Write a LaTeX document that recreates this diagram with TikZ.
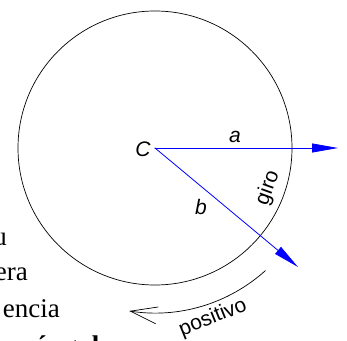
\documentclass[tikz,border=0pt]{standalone}
\usepackage{fontspec}
\setmainfont{Liberation Serif}
\setsansfont{Liberation Sans}
\usetikzlibrary{arrows.meta}
\definecolor{ink}{HTML}{000000}
\definecolor{vec}{HTML}{0000FF}

\begin{document}
\begin{tikzpicture}[
  x=1pt, y=1pt,
  lbl/.style={font=\sffamily\itshape\fontsize{21}{24}\selectfont, inner sep=0pt},
  tag/.style={font=\sffamily\fontsize{21}{24}\selectfont, inner sep=0pt},
  body/.style={font=\fontsize{27}{32}\selectfont, inner sep=0pt, anchor=base east},
  vecarrow/.style={-{Triangle[length=26pt,width=9pt]}, vec, line width=.8pt, line cap=round},
  turn/.style={-{Straight Barb[length=27pt,width=17pt]}, ink, line width=.7pt, line cap=round},
]
\useasboundingbox (0,0) rectangle (347,340);
\begin{scope}
\clip (0,0) rectangle (347,340);

% ---------- circle and centre ----------
\coordinate (cen) at (155,192);
\draw[ink, line width=.7pt] (cen) circle (137);
\node[lbl] (clab) at (143,191) {C};

% ---------- the two vectors ----------
\coordinate (aend) at (338,192);
\coordinate (bend) at (298,73);
\draw[vecarrow] (cen) -- (aend);
\draw[vecarrow] (cen) -- (bend);
\node[lbl] (alab) at (235,203) {a};
\node[lbl] (blab) at (201,133) {b};

% ---------- sense of rotation ----------
\node[tag, rotate=70] (giro) at (268,152) {giro};
\draw[turn] ([shift={(-48:165)}]cen) arc[start angle=-48, end angle=-99, radius=165];
\node[tag, rotate=22] (pos) at (213,22) {positivo};

% ---------- surrounding text, cut at the edge ----------
\node[body] (t1) at (7,95)   {u};
\node[body] (t2) at (28,60)  {era};
\node[body] (t3) at (60,23)  {encia};
\node[body, font=\bfseries\fontsize{27}{32}\selectfont] (t4) at (113,-14) {ángulo};
\end{scope}

\end{tikzpicture}
\end{document}
